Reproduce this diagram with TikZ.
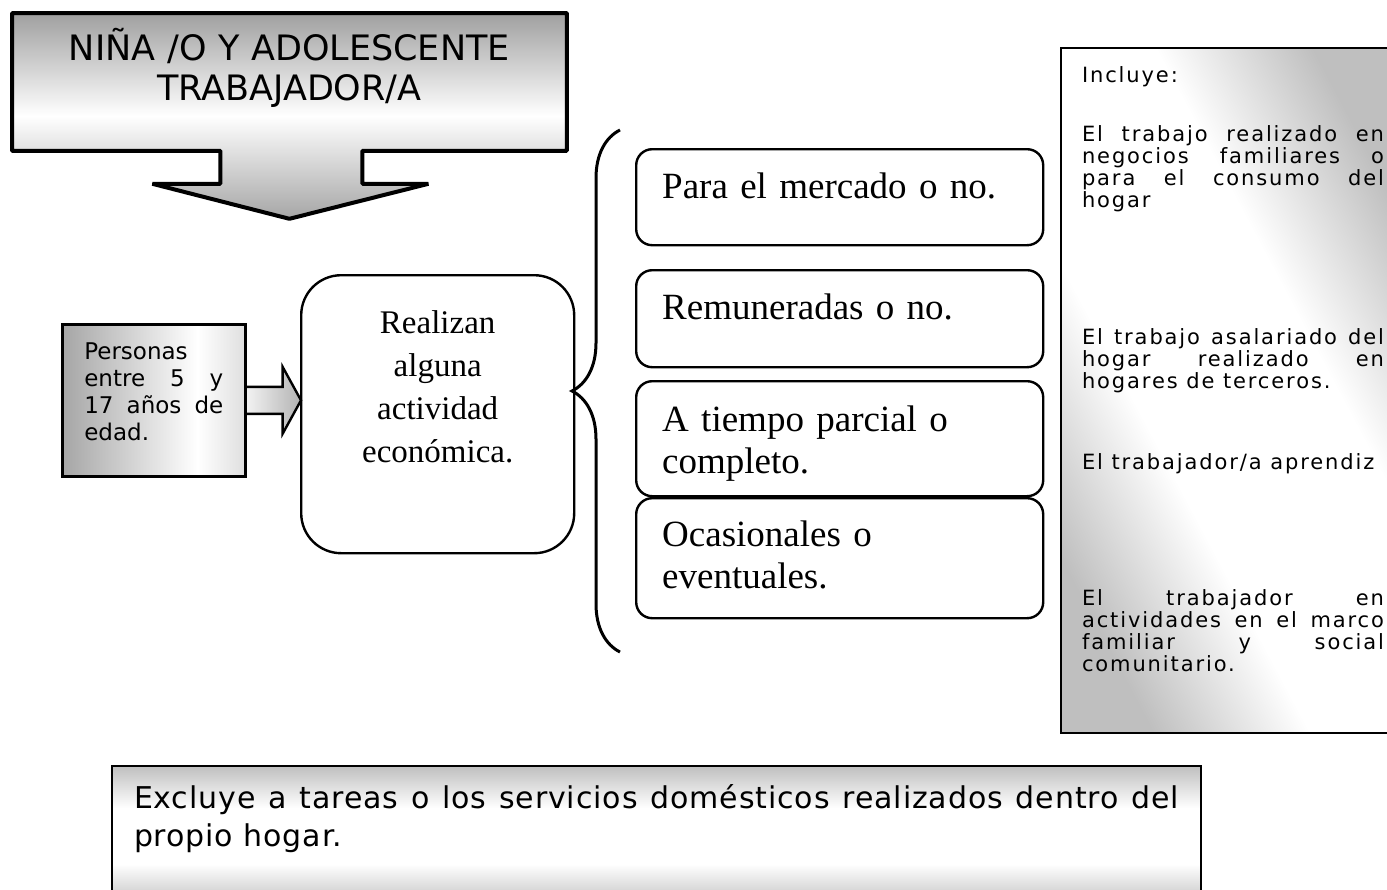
\documentclass[tikz,border=0pt]{standalone}
\usepackage{fontspec}
\usepackage{tikz}
\usetikzlibrary{positioning,calc,backgrounds,decorations.pathreplacing}
\newfontfamily\verdfont{DejaVu Sans}
\newfontfamily\panelfont[LetterSpace=9]{DejaVu Sans}
\newfontfamily\exclfont[LetterSpace=3]{DejaVu Sans}
\newfontfamily\serfont{Liberation Serif}
\pgfdeclarehorizontalshading{persshade}{100bp}{color(0bp)=(gray!70); color(25bp)=(gray!70); color(62bp)=(white); color(75bp)=(gray!25); color(100bp)=(gray!25)}
\pgfdeclareverticalshading{diagshade}{100bp}{color(0bp)=(gray!50); color(25bp)=(gray!50); color(40bp)=(white); color(60bp)=(white); color(75bp)=(gray!50); color(100bp)=(gray!50)}
\tikzset{
  titlebox/.style={anchor=north west,text width=277pt,align=center,inner sep=0pt,text height=23.5pt,text depth=45pt,font=\verdfont\fontsize{17.5}{20}\selectfont},
  callout/.style={draw,line width=2pt,line join=bevel,top color=gray!75,bottom color=gray!70,middle color=white},
  persbox/.style={draw,line width=1.3pt,anchor=north west,text width=69.5pt,align=justify,inner xsep=11pt,inner ysep=0pt,text height=17.5pt,text depth=58.5pt,shade,shading=persshade,font=\verdfont\fontsize{11.5}{13.5}\selectfont},
  inarrow/.style={draw,line width=1.2pt,left color=gray!10,right color=gray!60},
  actbox/.style={draw,line width=1.2pt,rounded corners=20pt,anchor=north west,minimum width=136.5pt,text width=90pt,align=center,inner sep=0pt,text height=29pt,text depth=110pt,font=\serfont\fontsize{16.5}{21.5}\selectfont},
  optbox/.style={draw,line width=1.2pt,rounded corners=8pt,anchor=north west,text width=177.5pt,align=left,inner xsep=13pt,inner ysep=0pt,text height=24.5pt,font=\serfont\fontsize{18.5}{21}\selectfont},
  bracel/.style={decorate,decoration={brace,amplitude=24pt},line width=1.5pt},
  panel/.style={draw,line width=1pt,anchor=north west,text width=151pt,align=justify,inner xsep=10.5pt,inner ysep=0pt,text height=17pt,text depth=325.5pt,shade,shading=diagshade,shading angle=-62,font=\panelfont\fontsize{10.5}{11}\selectfont},
  exclbox/.style={draw,line width=1pt,anchor=north west,text width=522.5pt,align=justify,inner xsep=11pt,inner ysep=0pt,text height=21pt,text depth=49pt,shade,shading=diagshade,font=\exclfont\fontsize{15}{19}\selectfont},
}
\begin{document}
\begin{tikzpicture}[x=0.5pt,y=-0.5pt]
  \useasboundingbox (0,0) rectangle (1387,889);
  % title arrow
  \node[titlebox] (tn) at (12,13) {NIÑA /O Y ADOLESCENTE\\TRABAJADOR/A};
  \begin{scope}[on background layer]
    \draw[callout] (tn.north west) -- (tn.north east) -- (tn.south east) -| ($(tn.south)+(73,33)$) -- ($(tn.south)+(139,33)$) -- ($(tn.south)+(0,68)$) -- ($(tn.south)+(-137,33)$) -- ($(tn.south)+(-69,33)$) |- (tn.south west) -- cycle;
  \end{scope}
  % left part
  \node[persbox] (pers) at (61,323) {Personas\linebreak entre 5 y\linebreak 17 años de\linebreak edad.};
  \node[actbox] (real) at (300,274) {Realizan\\alguna\\actividad\\económica.};
  \begin{scope}[on background layer]
    \draw[inarrow] ($(pers.east)+(0,-13.5)$) -- ++(36,0) -- ++(0,-20) -- ($(real.west |- pers.east)+(1,0)$) -- ($(pers.east)+(36,33.5)$) -- ++(0,-20) -- ($(pers.east)+(0,13.5)$);
  \end{scope}
  % brace and the four options
  \coordinate (bt) at (620,130);
  \coordinate (bb) at (620,652);
  \draw[bracel] (bb) -- (bt);
  \node[optbox,text depth=23.5pt] (o1) at (635,148) {Para el mercado o no.};
  \node[optbox,text depth=24pt] (o2) at (635,269) {Remuneradas o no.};
  \node[optbox,text height=25pt,text depth=32.5pt] (o3) at (635,380) {A tiempo parcial o\\completo.};
  \node[optbox,text height=24pt,text depth=36pt] (o4) at (635,497) {Ocasionales o\\eventuales.};
  % right panel
  \node[panel] (inc) at (1060,47) {Incluye:\\[18.5pt]
    El trabajo realizado en\linebreak negocios familiares o\linebreak para el consumo del\linebreak hogar\\[57.5pt]
    El trabajo asalariado del\linebreak hogar realizado en\linebreak hogares de terceros.\\[29.5pt]
    El trabajador/a aprendiz\\[57pt]
    El trabajador en\linebreak actividades en el marco\linebreak familiar y social\linebreak comunitario.};
  % bottom note
  \node[exclbox] (excl) at (111,765) {Excluye a tareas o los servicios domésticos realizados dentro del\linebreak propio hogar.};
\end{tikzpicture}
\end{document}
